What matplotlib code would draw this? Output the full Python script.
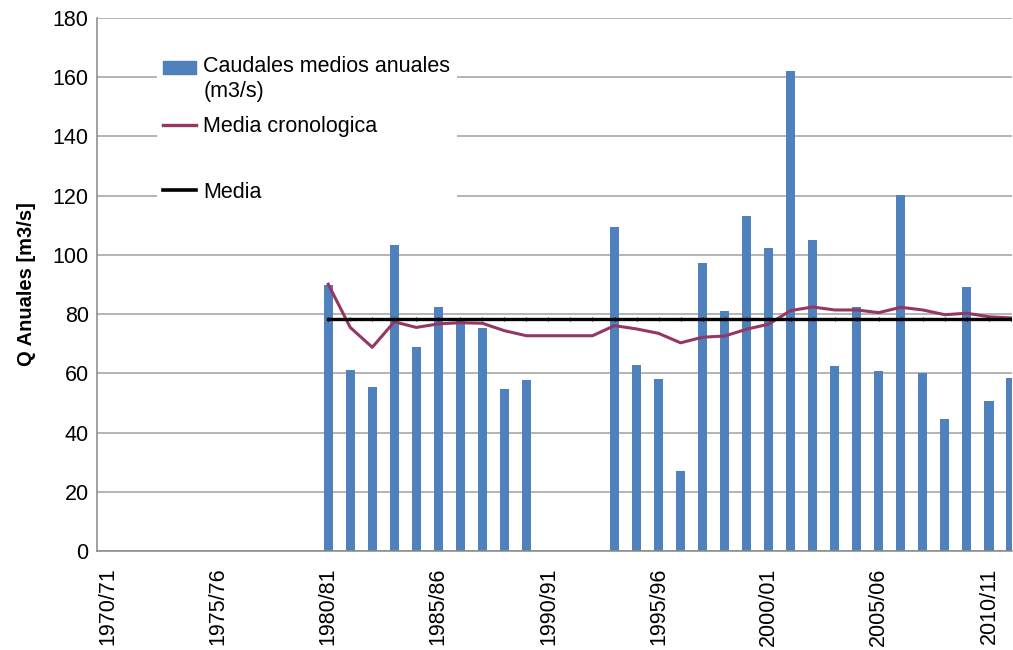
import numpy as np
import matplotlib
matplotlib.use('Agg')
import matplotlib.pyplot as plt
from matplotlib.patches import Patch
from matplotlib.lines import Line2D

plt.rcParams['font.family'] = ['Liberation Sans', 'DejaVu Sans']

# hydrological years 1970/71 ... 2011/12
years = ['%d/%02d' % (y, (y + 1) % 100) for y in range(1970, 2012)]

# annual mean flow (m3/s), None = no data
caudales = [None] * 10 + [89.8, 61.1, 55.4, 103.3, 68.9, 82.4, 78.4, 75.3, 54.7, 57.8,
                          None, None, None,
                          109.4, 62.8, 58.1, 27.0, 97.3, 81.1, 113.0, 102.3,
                          162.1, 105.0, 62.5, 82.4, 60.8, 120.2, 60.0, 44.6, 89.2, 50.7, 58.4]

# running (chronological) mean
media_crono = [None] * 10 + [90.1, 75.5, 68.8, 77.4, 75.5, 76.7, 77.1, 76.9, 74.4, 72.7,
                             72.7, 72.7, 72.7,
                             76.1, 75.0, 73.5, 70.3, 72.2, 72.6, 74.9, 76.6,
                             81.2, 82.4, 81.4, 81.4, 80.5, 82.3, 81.4, 79.8, 80.3, 79.1, 78.7]

media = 78.5

x = np.arange(len(years))
q = np.array([np.nan if v is None else v for v in caudales])
mc = np.array([np.nan if v is None else v for v in media_crono])
med = np.where(x >= 10, media, np.nan)

fig = plt.figure(figsize=(10.13, 6.5), dpi=100)
ax = fig.add_axes([97 / 1013, 1 - 551 / 650, (1012 - 97) / 1013, (551 - 18) / 650])

blue = '#4F81BD'
purple = '#953765'

ax.bar(x, q, width=0.42, color=blue, zorder=2)
ax.plot(x, mc, color=purple, lw=2.2, zorder=3)
ax.plot(x, med, color='black', lw=2.4, marker='|', ms=2.5, mew=0.8, zorder=4)

ax.set_xlim(-0.5, 41.05)
ax.set_ylim(0, 180)
ax.set_yticks(np.arange(0, 181, 20))
ax.set_xticks(x[::5])
ax.set_xticklabels(years[::5], rotation=90, fontsize=15.5)
ax.tick_params(axis='y', labelsize=15.5, length=0, pad=6)
ax.tick_params(axis='x', length=0, pad=12)
ax.yaxis.grid(True, color='#A0A0A0', lw=1.1, zorder=0)
ax.set_axisbelow(True)
for s in ['top', 'right']:
    ax.spines[s].set_visible(False)
for s in ['left', 'bottom']:
    ax.spines[s].set_color('#888888')
    ax.spines[s].set_linewidth(1.1)
ax.set_ylabel('Q Anuales [m3/s]', fontsize=14.5, fontweight='bold', labelpad=12)

handles = [Patch(color=blue),
           Line2D([], [], color=purple, lw=2.4),
           Line2D([], [], color='none'),
           Line2D([], [], color='black', lw=2.6)]
labels = ['Caudales medios anuales\n(m3/s)', 'Media cronologica', ' ', 'Media']
leg = ax.legend(handles, labels, loc='upper left',
                bbox_to_anchor=(157 / 1013, 1 - 50 / 650), bbox_transform=fig.transFigure,
                fontsize=15.5, frameon=True, fancybox=False, edgecolor='none',
                facecolor='white', framealpha=1, handlelength=1.5, handleheight=0.6,
                handletextpad=0.35, labelspacing=0.66, borderpad=0.3, borderaxespad=0)
leg.get_texts()[2].set_fontsize(7)
leg.set_zorder(5)
# put the bar swatch level with the first text line, as in the original
rect = leg.legend_handles[0]
rect.set_y(rect.get_y() + 8.5)

fig.savefig('out.png', dpi=100)
